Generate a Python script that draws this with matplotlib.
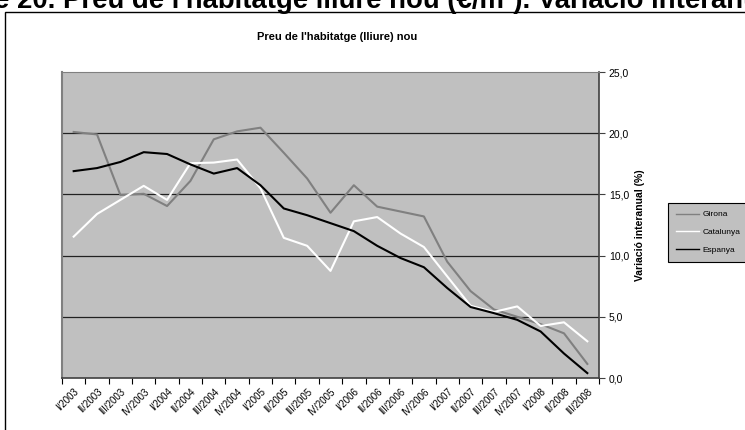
import numpy as np
import matplotlib
matplotlib.use("Agg")
import matplotlib.pyplot as plt
from matplotlib.patches import Rectangle

plt.rcParams['font.family'] = ['Liberation Sans', 'DejaVu Sans']

# trimestres
quarters = ['I/2003', 'II/2003', 'III/2003', 'IV/2003',
            'I/2004', 'II/2004', 'III/2004', 'IV/2004',
            'I/2005', 'II/2005', 'III/2005', 'IV/2005',
            'I/2006', 'II/2006', 'III/2006', 'IV/2006',
            'I/2007', 'II/2007', 'III/2007', 'IV/2007',
            'I/2008', 'II/2008', 'III/2008']

girona = [20.1, 19.9, 14.95, 15.05, 14.05, 16.1, 19.5, 20.15, 20.45, 18.4, 16.3, 13.5,
          15.75, 14.0, 13.6, 13.2, 9.5, 7.1, 5.6, 5.0, 4.4, 3.65, 1.15]
catalunya = [11.55, 13.4, 14.55, 15.7, 14.55, 17.55, 17.6, 17.85, 15.5, 11.45, 10.8, 8.75,
             12.8, 13.15, 11.8, 10.7, 8.3, 5.9, 5.4, 5.85, 4.25, 4.55, 3.0]
espanya = [16.9, 17.15, 17.65, 18.45, 18.3, 17.45, 16.7, 17.15, 15.75, 13.85, 13.3, 12.65,
           12.0, 10.8, 9.8, 9.05, 7.35, 5.8, 5.3, 4.75, 3.8, 2.0, 0.4]

yticks = [0, 5, 10, 15, 20, 25]

W, H = 745, 430
fig = plt.figure(figsize=(W / 100, H / 100), dpi=100)

# marc exterior del grafic (retallat a la dreta i a baix)
fig.patches.append(Rectangle((5 / W, -0.1), 1.2, 1.1 - 12 / H, transform=fig.transFigure,
                             fill=False, edgecolor='black', linewidth=1.0, clip_on=False))

# titol del document, tallat per dalt i a la dreta
fig.text(-6 / W, 1 - 8 / H, "e 20. Preu de l'habitatge lliure nou (€/m²). Variació interanual",
         fontsize=19.8, fontweight='bold', ha='left', va='baseline')

ax = fig.add_axes([62 / W, 1 - 378 / H, (599 - 62) / W, (378 - 72) / H])
ax.set_facecolor('#C0C0C0')

x = np.arange(len(quarters))
ax.plot(x, girona, color='#808080', lw=1.5, label='Girona')
ax.plot(x, catalunya, color='white', lw=1.5, label='Catalunya')
ax.plot(x, espanya, color='black', lw=1.5, label='Espanya')

ax.set_xlim(-0.5, len(quarters) - 0.5)
ax.set_ylim(0, 25)

for v in yticks[1:-1]:
    ax.axhline(v, color='#222222', lw=0.9, zorder=0.5)

ax.yaxis.tick_right()
ax.yaxis.set_label_position('right')
ax.set_yticks(yticks)
ax.set_yticklabels([f'{v:.1f}'.replace('.', ',') for v in yticks], fontsize=7.5)
ax.tick_params(axis='y', direction='out', length=4, width=0.8, color='#404040', pad=3)
ax.set_ylabel('Variació interanual (%)', fontsize=7.5, fontweight='bold', labelpad=4)

# ticks entre categories, etiquetes al centre
ax.set_xticks(np.arange(-0.5, len(quarters), 1.0))
ax.set_xticklabels([])
ax.set_xticks(x, minor=True)
ax.set_xticklabels(quarters, minor=True, rotation=45, ha='right', va='top',
                   rotation_mode='anchor', fontsize=7)
ax.tick_params(axis='x', which='major', direction='out', length=4, width=0.8, color='black')
ax.tick_params(axis='x', which='minor', length=0, pad=6)

ax.spines['top'].set_color('#808080')
ax.spines['left'].set_color('#808080')
ax.spines['left'].set_linewidth(1.5)
ax.spines['right'].set_color('#404040')
ax.spines['right'].set_linewidth(1.2)
ax.spines['bottom'].set_color('#404040')
ax.spines['bottom'].set_linewidth(1.2)

fig.text(337 / W, 1 - 37 / H, "Preu de l'habitatge (lliure) nou", fontsize=8,
         fontweight='bold', ha='center', va='center')

leg = ax.legend(loc='upper left', bbox_to_anchor=(664 / W, 1 - 199 / H),
                bbox_transform=fig.transFigure, fontsize=6, frameon=True,
                fancybox=False, handlelength=2.8, labelspacing=1.2, borderpad=0.9,
                handletextpad=0.4)
leg.get_frame().set_facecolor('#C0C0C0')
leg.get_frame().set_edgecolor('black')
leg.get_frame().set_linewidth(0.8)
leg.get_frame().set_alpha(1)
for line in leg.get_lines():
    line.set_linewidth(1.0)

fig.savefig('out.png', dpi=100)
